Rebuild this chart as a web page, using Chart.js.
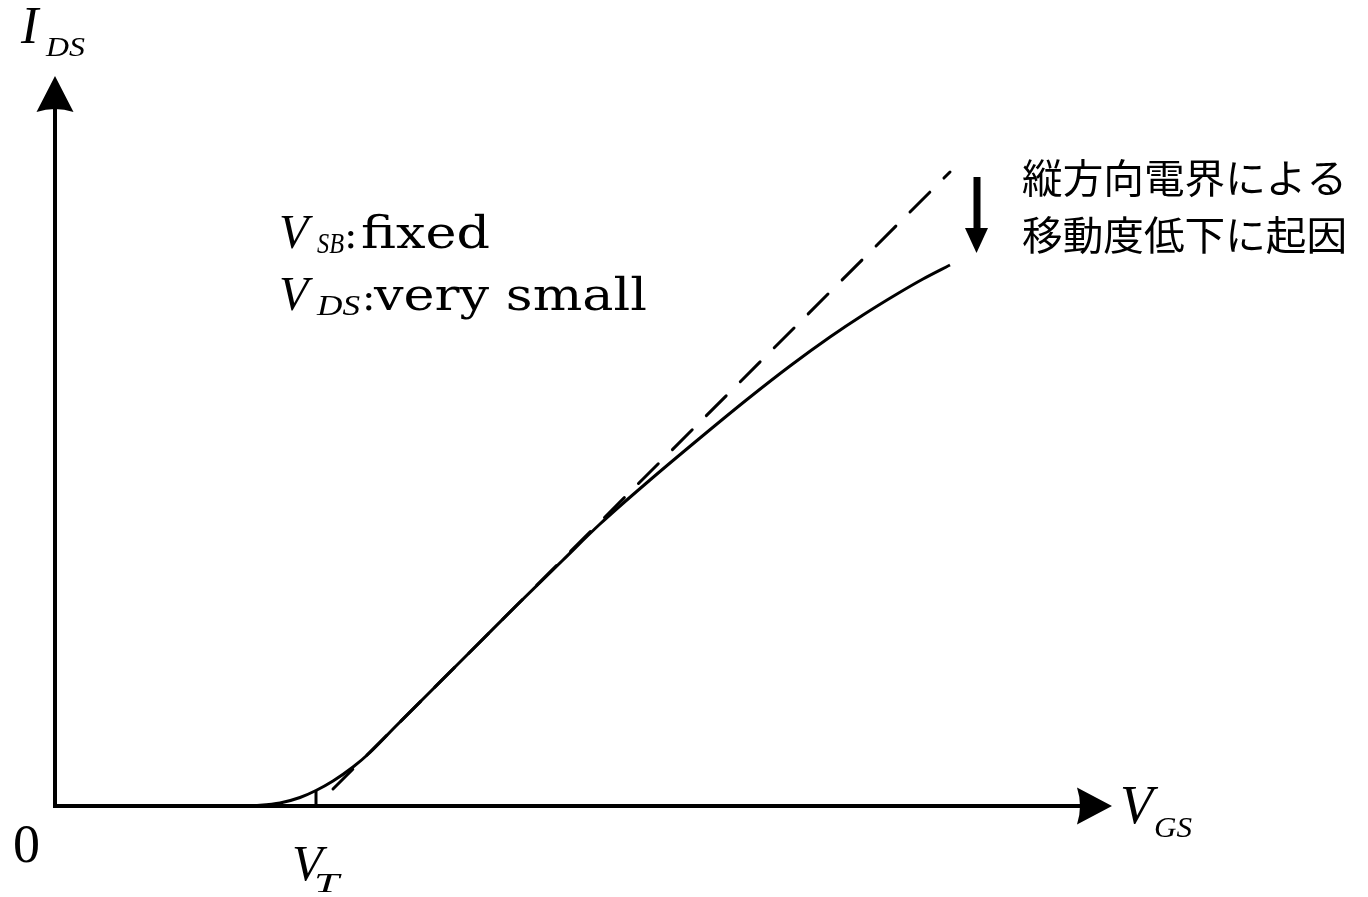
<!DOCTYPE html>
<html>
<head>
<meta charset="utf-8">
<script src="https://cdn.jsdelivr.net/npm/chart.js@4/dist/chart.umd.min.js"></script>
<style>
  html, body { margin: 0; padding: 0; background: #fff; }
  canvas { display: block; }
</style>
</head>
<body>
<canvas id="c" width="1368" height="897"></canvas>
<script>
// Transfer characteristic I_DS(V_GS) of a MOSFET, arbitrary units
const vgs = [1.95, 2.25, 2.45, 2.61, 2.78, 2.98, 3.15, 3.40, 3.82, 4.25, 4.62, 5.08, 5.45, 5.95, 6.45, 6.92, 7.35, 7.75, 8.08, 8.42, 8.68, 8.95];
const ids = [0.00, 0.03, 0.085, 0.155, 0.25, 0.39, 0.535, 0.79, 1.21, 1.64, 2.01, 2.46, 2.82, 3.26, 3.68, 4.065, 4.40, 4.69, 4.91, 5.12, 5.27, 5.41];

// Straight-line extrapolation without mobility degradation
const idealVgs = [2.78, 8.95];
const idealIds = [0.17, 6.34];

// Threshold voltage marker
const vtVgs = [2.61, 2.61];
const vtIds = [0.00, 0.155];

// Axis ranges
const xRange = [0, 10.57];
const yRange = [0, 7.30];

// Text
const yAxisLabel = ['I', 'DS'];
const xAxisLabel = ['V', 'GS'];
const originLabel = '0';
const vtLabel = ['V', 'T'];
const condLines = [['V', 'SB', 'fixed'], ['V', 'DS', 'very small']];
const noteLines = ['縦方向電界による', '移動度低下に起因'];

const toPts = (xs, ys) => xs.map((x, i) => ({ x: x, y: ys[i] }));

function fitText(ctx, s, font, x, y, w) {
  ctx.font = font;
  const m = ctx.measureText(s).width;
  ctx.save();
  ctx.translate(x, y);
  if (w) ctx.scale(w / m, 1);
  ctx.fillText(s, 0, 0);
  ctx.restore();
}

const decorations = {
  id: 'decorations',
  afterDatasetsDraw(chart) {
    const ctx = chart.ctx;
    const xs = chart.scales.x, ys = chart.scales.y;
    const x0 = xs.getPixelForValue(xRange[0]);
    const x1 = xs.getPixelForValue(xRange[1]);
    const y0 = ys.getPixelForValue(yRange[0]);
    const y1 = ys.getPixelForValue(yRange[1]);
    ctx.save();
    ctx.fillStyle = '#000';
    ctx.strokeStyle = '#000';

    // axes
    ctx.lineWidth = 4;
    ctx.lineCap = 'butt';
    ctx.lineJoin = 'miter';
    ctx.beginPath();
    ctx.moveTo(x0, y1 + 32);
    ctx.lineTo(x0, y0);
    ctx.lineTo(x1 - 32, y0);
    ctx.stroke();

    // arrow heads
    ctx.beginPath();
    ctx.moveTo(x0, y1);
    ctx.lineTo(x0 + 18.5, y1 + 36);
    ctx.quadraticCurveTo(x0, y1 + 30, x0 - 18.5, y1 + 36);
    ctx.closePath();
    ctx.fill();

    ctx.beginPath();
    ctx.moveTo(x1, y0);
    ctx.lineTo(x1 - 35, y0 + 18.5);
    ctx.quadraticCurveTo(x1 - 29, y0, x1 - 35, y0 - 18.5);
    ctx.closePath();
    ctx.fill();

    // downward arrow next to the note
    ctx.lineWidth = 7;
    ctx.beginPath();
    ctx.moveTo(977, 177);
    ctx.lineTo(977, 230);
    ctx.stroke();
    ctx.beginPath();
    ctx.moveTo(965, 228);
    ctx.lineTo(988, 228);
    ctx.lineTo(976.5, 253);
    ctx.closePath();
    ctx.fill();

    ctx.textAlign = 'left';
    ctx.textBaseline = 'alphabetic';
    const it = 'italic ';
    const serif = '"Liberation Serif", "Times New Roman", serif';
    const serif2 = '"DejaVu Serif", serif';

    // I_DS
    fitText(ctx, yAxisLabel[0], it + '52px ' + serif, 21, 43);
    fitText(ctx, yAxisLabel[1], it + '27px ' + serif, 46, 56, 39);
    // V_GS
    fitText(ctx, xAxisLabel[0], it + '54px ' + serif, 1120, 823);
    fitText(ctx, xAxisLabel[1], it + '29px ' + serif, 1154, 837, 38);
    // origin
    fitText(ctx, originLabel, '54px ' + serif, 13, 862);
    // V_T
    fitText(ctx, vtLabel[0], it + '50px ' + serif, 292, 880);
    fitText(ctx, vtLabel[1], it + '28px ' + serif, 314, 892, 25);

    // operating conditions
    const rows = [
      { base: 248, subW: 27, colonX: 344, textX: 361, textW: 129 },
      { base: 310, subW: 43, colonX: 362, textX: 374, textW: 273 }
    ];
    rows.forEach((r, i) => {
      const c = condLines[i];
      fitText(ctx, c[0], it + '48px ' + serif, 279, r.base);
      fitText(ctx, c[1], it + '30px ' + serif, 317, r.base + 5, r.subW);
      fitText(ctx, ':', '40px ' + serif2, r.colonX, r.base);
      fitText(ctx, c[2], '44px ' + serif2, r.textX, r.base, r.textW);
    });

    // note
    ctx.textBaseline = 'middle';
    const jp = '"Noto Sans CJK JP", "Noto Sans CJK SC", sans-serif';
    fitText(ctx, noteLines[0], '40px ' + jp, 1022, 178, 325);
    fitText(ctx, noteLines[1], '40px ' + jp, 1022, 235, 325);

    ctx.restore();
  }
};

new Chart(document.getElementById('c'), {
  type: 'scatter',
  data: {
    datasets: [
      {
        label: 'I_DS',
        data: toPts(vgs, ids),
        showLine: true,
        borderColor: '#000',
        borderWidth: 3,
        pointRadius: 0,
        cubicInterpolationMode: 'monotone',
        clip: false
      },
      {
        label: 'ideal',
        data: toPts(idealVgs, idealIds),
        showLine: true,
        borderColor: '#000',
        borderWidth: 3,
        borderDash: [28, 20],
        borderCapStyle: 'round',
        pointRadius: 0,
        clip: false
      },
      {
        label: 'V_T',
        data: toPts(vtVgs, vtIds),
        showLine: true,
        borderColor: '#000',
        borderWidth: 3,
        pointRadius: 0,
        clip: false
      }
    ]
  },
  options: {
    responsive: false,
    devicePixelRatio: 1,
    animation: false,
    events: [],
    layout: { padding: { left: 55, top: 76, right: 256, bottom: 91 } },
    plugins: { legend: { display: false }, tooltip: { enabled: false } },
    scales: {
      x: { type: 'linear', display: false, min: xRange[0], max: xRange[1] },
      y: { type: 'linear', display: false, min: yRange[0], max: yRange[1] }
    }
  },
  plugins: [decorations]
});
</script>
</body>
</html>
